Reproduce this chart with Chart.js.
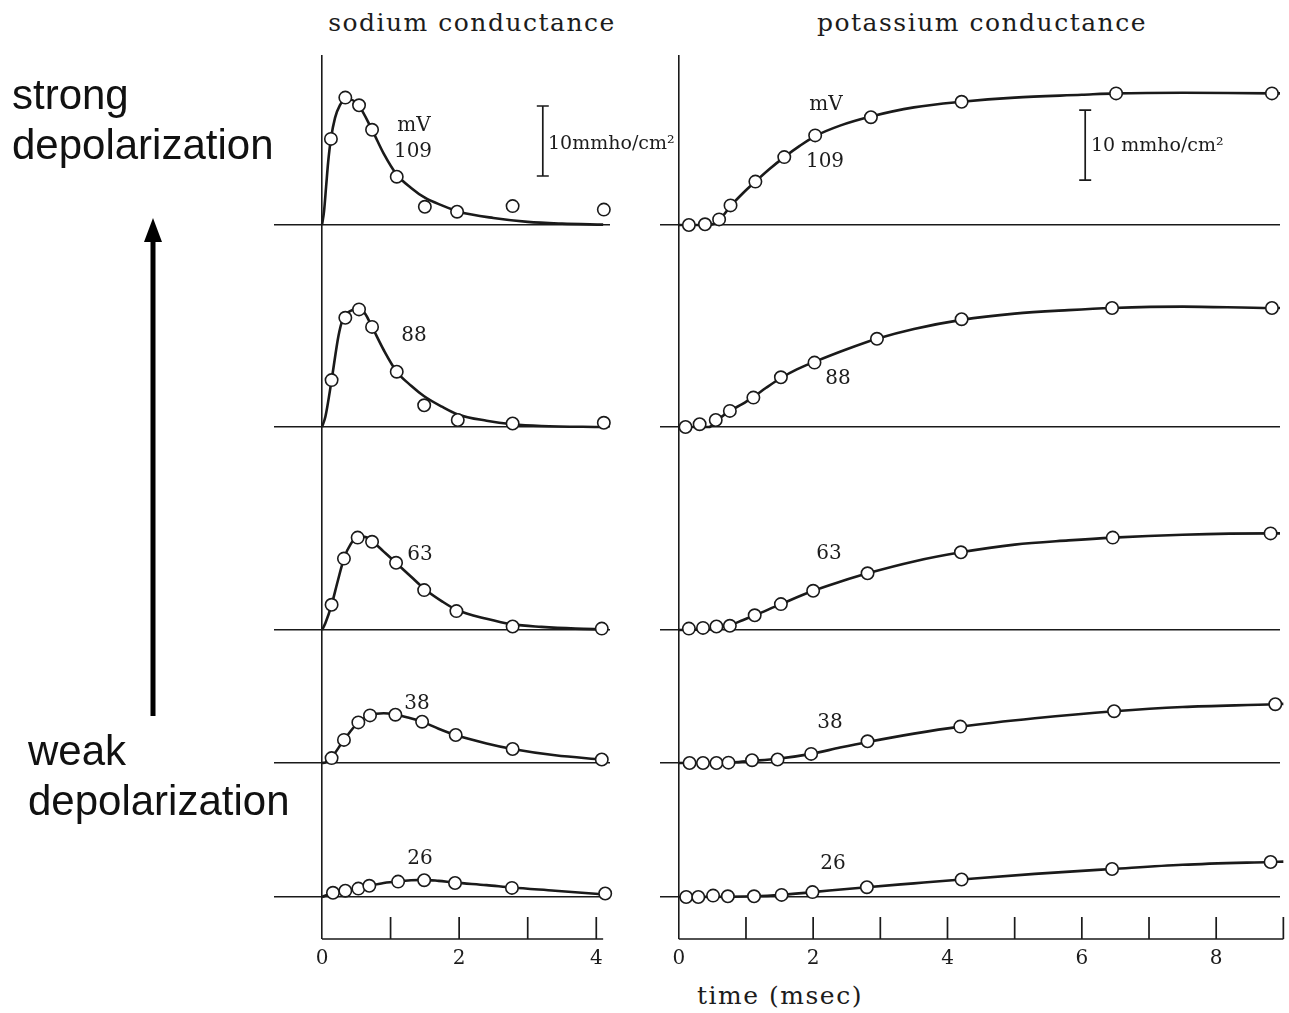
<!DOCTYPE html>
<html>
<head>
<meta charset="utf-8">
<script src="https://cdn.jsdelivr.net/npm/chart.js@4.4.1/dist/chart.umd.min.js"></script>
<style>
  html, body { margin: 0; padding: 0; background: #fff; overflow: hidden; }
  #page { position: relative; width: 1289px; height: 1013px; }
  canvas { position: absolute; }
  .t { position: absolute; white-space: nowrap; color: #1c1c1c; transform: translate(-50%, -50%); }
  .serif { font-family: 'DejaVu Serif', serif; }
  .head { font-size: 25px; letter-spacing: 1.5px; }
  .num { font-size: 20px; }
  .unit { font-size: 19px; transform: translate(0, -50%); }
  .side { position: absolute; font-family: 'Liberation Sans', Arial, sans-serif; font-size: 42px; line-height: 50px; color: #111; }
</style>
</head>
<body>
<div id="page">
  <canvas id="na" width="376" height="940" style="left:254px;top:40px"></canvas>
  <canvas id="k" width="660" height="940" style="left:640px;top:40px"></canvas>

  <div class="t serif head" style="left:472px;top:22px">sodium conductance</div>
  <div class="t serif head" style="left:982px;top:22px">potassium conductance</div>
  <div class="t serif head" style="left:780px;top:995px">time (msec)</div>

  <div class="side" style="left:12px;top:70px">strong<br>depolarization</div>
  <div class="side" style="left:28px;top:726px">weak<br>depolarization</div>
  <svg style="position:absolute;left:0;top:0" width="300" height="1013">
    <line x1="153" y1="716" x2="153" y2="236" stroke="#000" stroke-width="5"/>
    <polygon points="153,218 144,242 162,242" fill="#000"/>
  </svg>

  <div class="t serif num" style="left:414px;top:124px">mV</div>
  <div class="t serif num" style="left:826px;top:103px">mV</div>
  <div class="t serif unit" style="left:548px;top:142px">10mmho/cm²</div>
  <div class="t serif unit" style="left:1091px;top:144px">10 mmho/cm²</div>
  <div id="labels"></div>
</div>

<script>
// depolarization of each row, top to bottom (mV)
const voltages = ['109', '88', '63', '38', '26'];

// sodium conductance: measured points (t in msec, g in mmho/cm2)
const naPointT = [
  [0.13, 0.34, 0.54, 0.73, 1.09, 1.50, 1.97, 2.78, 4.11],
  [0.14, 0.34, 0.54, 0.73, 1.09, 1.49, 1.98, 2.78, 4.11],
  [0.14, 0.32, 0.52, 0.73, 1.08, 1.49, 1.96, 2.78, 4.08],
  [0.14, 0.32, 0.53, 0.70, 1.07, 1.46, 1.95, 2.78, 4.08],
  [0.16, 0.34, 0.53, 0.69, 1.11, 1.49, 1.94, 2.77, 4.13]
];
const naPointG = [
  [12.3, 18.2, 17.1, 13.6, 6.9, 2.6, 1.9, 2.7, 2.2],
  [6.7, 15.6, 16.8, 14.3, 7.9, 3.1, 1.0, 0.5, 0.6],
  [3.6, 10.2, 13.2, 12.6, 9.6, 5.7, 2.7, 0.5, 0.2],
  [0.7, 3.3, 5.8, 6.8, 6.9, 5.9, 4.0, 2.0, 0.5],
  [0.6, 0.9, 1.2, 1.6, 2.2, 2.4, 2.0, 1.3, 0.5]
];
// sodium conductance: fitted curves
const naFitT = [
  [0, 0.03, 0.06, 0.09, 0.13, 0.19, 0.26, 0.34, 0.42, 0.54, 0.73, 0.9, 1.09, 1.3, 1.5, 1.75, 2.0, 2.5, 3.0, 3.5, 4.1],
  [0, 0.05, 0.14, 0.24, 0.3, 0.4, 0.52, 0.62, 0.73, 0.9, 1.09, 1.3, 1.49, 1.75, 1.98, 2.4, 2.78, 3.2, 4.1],
  [0, 0.05, 0.14, 0.23, 0.32, 0.42, 0.52, 0.62, 0.73, 0.9, 1.08, 1.3, 1.49, 1.75, 1.96, 2.4, 2.78, 3.2, 3.7, 4.1],
  [0, 0.05, 0.14, 0.32, 0.53, 0.7, 0.9, 1.07, 1.25, 1.46, 1.7, 1.95, 2.4, 2.78, 3.4, 4.08],
  [0, 0.16, 0.34, 0.53, 0.69, 0.9, 1.11, 1.3, 1.49, 1.7, 1.94, 2.4, 2.77, 3.4, 4.13]
];
const naFitG = [
  [0, 2.0, 5.5, 9.0, 12.3, 15.3, 17.1, 17.9, 17.9, 17.0, 13.6, 10.2, 7.2, 5.3, 3.9, 2.8, 1.9, 1.0, 0.45, 0.2, 0.05],
  [0, 1.5, 6.7, 13.0, 15.3, 16.5, 16.9, 16.3, 14.3, 11.0, 7.9, 5.9, 4.4, 2.9, 1.8, 0.9, 0.4, 0.15, 0],
  [0, 1.0, 3.6, 7.0, 10.2, 12.3, 13.2, 13.3, 12.7, 11.2, 9.6, 7.6, 5.9, 4.1, 2.9, 1.6, 0.8, 0.45, 0.2, 0.1],
  [0, 0.1, 0.8, 3.3, 5.8, 6.8, 7.1, 6.9, 6.5, 5.9, 4.9, 4.0, 2.8, 2.0, 1.1, 0.5],
  [0, 0.6, 0.9, 1.25, 1.6, 2.0, 2.25, 2.4, 2.45, 2.3, 2.05, 1.7, 1.35, 0.9, 0.35]
];

// potassium conductance: measured points
const kPointT = [
  [0.15, 0.39, 0.60, 0.77, 1.14, 1.57, 2.03, 2.86, 4.21, 6.51, 8.83],
  [0.10, 0.31, 0.55, 0.76, 1.11, 1.52, 2.02, 2.95, 4.21, 6.45, 8.83],
  [0.15, 0.36, 0.56, 0.76, 1.13, 1.52, 2.00, 2.81, 4.20, 6.46, 8.81],
  [0.16, 0.36, 0.56, 0.74, 1.09, 1.47, 1.97, 2.81, 4.19, 6.48, 8.88],
  [0.11, 0.29, 0.51, 0.73, 1.12, 1.53, 1.99, 2.80, 4.21, 6.45, 8.81]
];
const kPointG = [
  [0, 0.1, 0.8, 2.8, 6.2, 9.7, 12.8, 15.4, 17.6, 18.8, 18.8],
  [0, 0.4, 1.0, 2.3, 4.2, 7.1, 9.2, 12.6, 15.4, 17.0, 17.0],
  [0.2, 0.3, 0.5, 0.6, 2.1, 3.7, 5.6, 8.1, 11.1, 13.2, 13.8],
  [0, 0, 0, 0.05, 0.4, 0.5, 1.3, 3.1, 5.2, 7.4, 8.4],
  [0, 0, 0.2, 0.1, 0.1, 0.3, 0.7, 1.4, 2.5, 4.0, 5.0]
];
// potassium conductance: fitted curves
const kFitT = [
  [0, 0.45, 0.6, 0.77, 0.95, 1.14, 1.35, 1.57, 1.8, 2.03, 2.4, 2.86, 3.5, 4.21, 5.0, 6.0, 6.51, 7.5, 8.83, 8.95],
  [0, 0.45, 0.55, 0.76, 0.95, 1.11, 1.3, 1.52, 1.75, 2.02, 2.5, 2.95, 3.5, 4.21, 5.0, 5.8, 6.45, 7.5, 8.83, 8.95],
  [0, 0.55, 0.76, 0.95, 1.13, 1.52, 2.0, 2.4, 2.81, 3.5, 4.2, 5.0, 5.8, 6.46, 7.5, 8.81, 8.95],
  [0, 0.8, 1.09, 1.47, 1.97, 2.4, 2.81, 3.5, 4.19, 5.3, 6.48, 7.5, 8.88, 9.0],
  [0, 1.12, 1.53, 1.99, 2.8, 3.5, 4.21, 5.3, 6.45, 7.5, 8.81, 9.0]
];
const kFitG = [
  [0, 0, 0.7, 2.7, 4.5, 6.2, 8.0, 9.7, 11.3, 12.7, 14.2, 15.5, 16.8, 17.6, 18.2, 18.6, 18.8, 18.9, 18.8, 18.8],
  [0, 0, 0.8, 2.3, 3.3, 4.3, 5.6, 7.0, 8.2, 9.3, 11.1, 12.6, 14.0, 15.3, 16.2, 16.7, 17.0, 17.2, 17.0, 17.0],
  [0, 0.2, 0.7, 1.4, 2.1, 3.7, 5.6, 6.9, 8.1, 9.8, 11.1, 12.2, 12.8, 13.2, 13.6, 13.8, 13.8],
  [0, 0.1, 0.3, 0.6, 1.3, 2.2, 3.0, 4.2, 5.2, 6.4, 7.4, 8.0, 8.4, 8.45],
  [0, 0.1, 0.3, 0.7, 1.4, 1.95, 2.5, 3.3, 4.0, 4.6, 5.0, 5.05]
];

// tick labels on the time axes
const naTickLabels = ['0', '2', '4'];
const kTickLabels = ['0', '2', '4', '6', '8'];

// ---- layout (pixels on the page) ----
const PX_PER_UNIT = 7;                        // 10 mmho/cm2 = 70 px
const BASE_PX = [225, 427, 630, 763, 897];    // baseline of each row
const EDGES = [55, 240, 440, 645, 778, 939];  // row bands inside the plot area

// number labels next to each curve [left, top]
const naLabelPos = [[413, 150], [414, 334], [420, 553], [417, 702], [420, 857]];
const kLabelPos = [[825, 160], [838, 377], [829, 552], [830, 721], [833, 862]];

var INK = '#1a1a1a';

function rowScales() {
    var s = {};
    for (var i = 0; i < 5; i++) {
        var top = EDGES[i], bot = EDGES[i + 1], base = BASE_PX[i];
        s['y' + (i + 1)] = {
            type: 'linear',
            position: 'right',
            stack: 'rows',
            stackWeight: bot - top,
            weight: i + 1,
            min: -(bot - base) / PX_PER_UNIT,
            max: (base - top) / PX_PER_UNIT,
            ticks: { display: false },
            border: { display: false },
            grid: { drawTicks: false, color: INK, lineWidth: 1.6 },
            afterBuildTicks: function (ax) { ax.ticks = [{ value: 0 }]; }
        };
    }
    return s;
}

function rowDatasets(fitT, fitG, ptT, ptG) {
    var sets = [];
    for (var i = 0; i < 5; i++) {
        sets.push({
            data: fitT[i].map(function (t, k) { return { x: t, y: fitG[i][k] }; }),
            yAxisID: 'y' + (i + 1),
            borderColor: INK,
            borderWidth: 2.6,
            pointRadius: 0,
            cubicInterpolationMode: 'monotone',
            fill: false,
            clip: false,
            order: 2
        });
        sets.push({
            data: ptT[i].map(function (t, k) { return { x: t, y: ptG[i][k] }; }),
            yAxisID: 'y' + (i + 1),
            showLine: false,
            pointRadius: 6.2,
            pointBorderWidth: 1.6,
            pointBackgroundColor: '#fff',
            pointBorderColor: INK,
            clip: false,
            order: 1
        });
    }
    return sets;
}

// bottom time axis with inward ticks, plus the 10 mmho/cm2 scale bar
var axisFrame = {
    id: 'axisFrame',
    afterDraw: function (chart, args, opts) {
        var ctx = chart.ctx, x = chart.scales.x, yb = chart.chartArea.bottom;
        ctx.save();
        ctx.strokeStyle = INK;
        ctx.lineWidth = 1.7;
        ctx.beginPath();
        ctx.moveTo(x.getPixelForValue(0), yb);
        ctx.lineTo(x.getPixelForValue(opts.end), yb);
        for (var v = 1; v <= opts.lastTick; v++) {
            var px = x.getPixelForValue(v);
            ctx.moveTo(px, yb);
            ctx.lineTo(px, yb - 22);
        }
        var y1 = chart.scales.y1, bx = x.getPixelForValue(opts.barAt);
        var bTop = y1.getPixelForValue(opts.barFrom + 10), bBot = y1.getPixelForValue(opts.barFrom);
        ctx.moveTo(bx, bTop); ctx.lineTo(bx, bBot);
        ctx.moveTo(bx - 6, bTop); ctx.lineTo(bx + 6, bTop);
        ctx.moveTo(bx - 6, bBot); ctx.lineTo(bx + 6, bBot);
        ctx.stroke();
        ctx.restore();
    }
};

function drawColumn(id, xMin, xMax, tickLabels, fitT, fitG, ptT, ptG, frame) {
    var scales = rowScales();
    scales.x = {
        type: 'linear',
        position: 'bottom',
        min: xMin,
        max: xMax,
        afterFit: function (s) { s.height = 32; },
        afterBuildTicks: function (ax) {
            var list = [];
            for (var v = 0; v <= ax.max; v++) list.push({ value: v });
            ax.ticks = list;
        },
        border: { display: false },
        grid: {
            drawTicks: false,
            lineWidth: 1.6,
            color: function (c) { return c.tick && c.tick.value === 0 ? INK : 'rgba(0,0,0,0)'; }
        },
        ticks: {
            autoSkip: false,
            maxRotation: 0,
            padding: 8,
            color: '#1c1c1c',
            font: { family: 'DejaVu Serif', size: 20 },
            callback: function (v) {
                return tickLabels.indexOf(String(v)) >= 0 ? String(v) : '';
            }
        }
    };

    return new Chart(document.getElementById(id), {
        type: 'line',
        data: { datasets: rowDatasets(fitT, fitG, ptT, ptG) },
        options: {
            responsive: false,
            animation: false,
            events: [],
            layout: { padding: { left: 20, right: 20, top: 15, bottom: 9 } },
            scales: scales,
            plugins: {
                legend: { display: false },
                tooltip: { enabled: false },
                axisFrame: frame
            }
        },
        plugins: [axisFrame]
    });
}

drawColumn('na', -0.7, 4.2, naTickLabels, naFitT, naFitG, naPointT, naPointG,
    { end: 4.1, lastTick: 4, barAt: 3.22, barFrom: 7 });
drawColumn('k', -0.28, 8.95, kTickLabels, kFitT, kFitG, kPointT, kPointG,
    { end: 9, lastTick: 9, barAt: 6.05, barFrom: 6.4 });

// voltage labels beside the curves
var holder = document.getElementById('labels');
function addLabels(pos) {
    for (var i = 0; i < voltages.length; i++) {
        var d = document.createElement('div');
        d.className = 't serif num';
        d.style.left = pos[i][0] + 'px';
        d.style.top = pos[i][1] + 'px';
        d.textContent = voltages[i];
        holder.appendChild(d);
    }
}
addLabels(naLabelPos);
addLabels(kLabelPos);
</script>
</body>
</html>
